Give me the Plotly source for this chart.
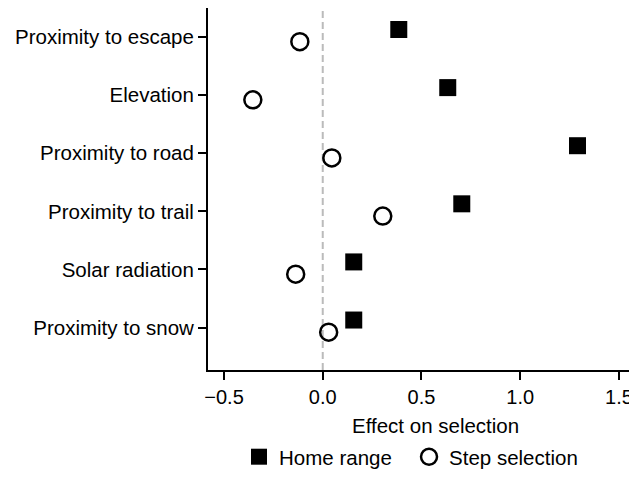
import plotly.graph_objects as go

categories = ["Proximity to escape", "Elevation", "Proximity to road",
              "Proximity to trail", "Solar radiation", "Proximity to snow"]
home_range = [0.385, 0.633, 1.29, 0.704, 0.157, 0.157]
step_selection = [-0.116, -0.354, 0.046, 0.304, -0.137, 0.03]
x_ticks = [-0.5, 0.0, 0.5, 1.0, 1.5]
x_tick_labels = ["\u22120.5", "0.0", "0.5", "1.0", "1.5"]

pos = list(range(len(categories)))
FONT = "Liberation Sans, Arial, Helvetica, sans-serif"

fig = go.Figure()
fig.add_trace(go.Scatter(
    x=home_range, y=[p - 0.13 for p in pos], mode="markers", name="Home range",
    marker=dict(symbol="square", size=17, color="black", line=dict(width=0))))
fig.add_trace(go.Scatter(
    x=step_selection, y=[p + 0.08 for p in pos], mode="markers", name="Step selection",
    marker=dict(symbol="circle-open", size=17, color="black", line=dict(width=2.5, color="black"))))

fig.add_shape(type="line", x0=0, x1=0, xref="x", y0=0, y1=1, yref="paper",
              line=dict(color="#bbbbbb", width=2, dash="7px,4px"), layer="below")

fig.update_layout(
    width=629, height=469,
    margin=dict(l=200, r=4, t=0, b=103),
    paper_bgcolor="white", plot_bgcolor="white",
    font=dict(family=FONT, size=20, color="black"),
    showlegend=True,
    legend=dict(orientation="h", x=0.073, xanchor="left", y=-0.240, yanchor="middle",
                font=dict(size=20.5), itemwidth=30, tracegroupgap=0,
                entrywidth=125, entrywidthmode="pixels"),
    xaxis=dict(range=[-0.581, 1.571], tickvals=x_ticks, ticktext=x_tick_labels,
               showgrid=False, zeroline=False, showline=True, linecolor="black", linewidth=2,
               ticks="outside", ticklen=8, tickwidth=2, tickcolor="black",
               tickfont=dict(size=20)),
    yaxis=dict(range=[5.73, -0.5], tickvals=pos, ticktext=categories,
               showgrid=False, zeroline=False, showline=True, linecolor="black", linewidth=2,
               ticks="outside", ticklen=8, tickwidth=2, tickcolor="black",
               tickfont=dict(size=20.5)),
    annotations=[dict(text="Effect on selection", x=0.536, xref="paper", y=-0.153, yref="paper",
                      yanchor="middle", showarrow=False, font=dict(size=20.5))],
)

fig.write_html("out.html")
